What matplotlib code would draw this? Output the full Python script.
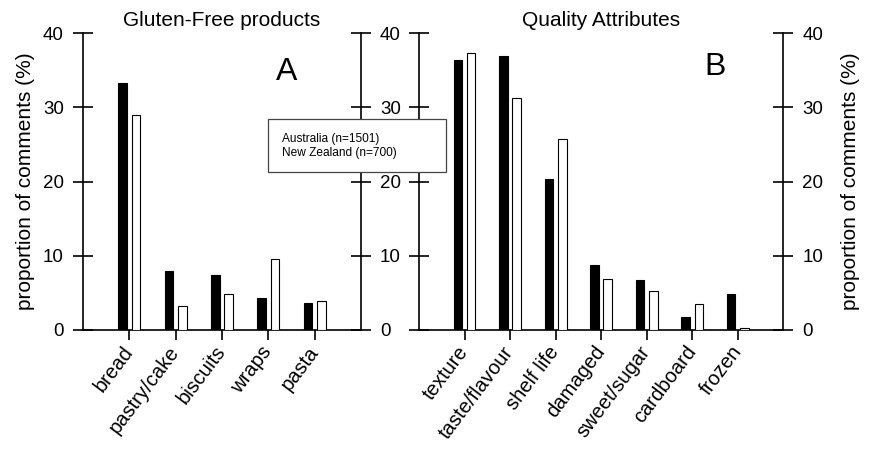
import matplotlib
matplotlib.use("Agg")
import matplotlib.pyplot as plt
from matplotlib.patches import Rectangle
import numpy as np

plt.rcParams['font.family'] = ['Liberation Sans', 'DejaVu Sans']

# ---- data ----
series_names = ["Australia (n=1501)", "New Zealand (n=700)"]

products = ["bread", "pastry/cake", "biscuits", "wraps", "pasta"]
products_au = [33.3, 8.0, 7.45, 4.3, 3.7]
products_nz = [29.0, 3.2, 4.9, 9.6, 3.9]

attributes = ["texture", "taste/flavour", "shelf life", "damaged",
              "sweet/sugar", "cardboard", "frozen"]
attributes_au = [36.4, 37.0, 20.3, 8.7, 6.8, 1.8, 4.9]
attributes_nz = [37.3, 31.3, 25.7, 6.9, 5.3, 3.45, 0.3]

yticks = [0, 10, 20, 30, 40]
titles = ["Gluten-Free products", "Quality Attributes"]
panel_letters = ["A", "B"]
ylabel = "proportion of comments (%)"

# ---- figure ----
W, H = 873, 449
fig = plt.figure(figsize=(W / 100, H / 100), dpi=100)

def fx(px):
    return px / W

def fy(py):
    return 1 - py / H

axA = fig.add_axes([fx(83), fy(330), fx(361) - fx(83), fy(33.3) - fy(330)])
axB = fig.add_axes([fx(419), fy(330), fx(783.3) - fx(419), fy(33.3) - fy(330)])

bw = 0.19
off = 0.145
lw = 1.2

def style(ax, cats, au, nz, title, letter, lx, ly, left_labels, right_labels):
    x = np.arange(1, len(cats) + 1)
    ax.bar(x - off, au, width=bw, color="black", edgecolor="black", linewidth=0.8, zorder=3)
    ax.bar(x + off, nz, width=bw, color="white", edgecolor="black", linewidth=0.8, zorder=3)
    ax.set_xlim(0, len(cats) + 1)
    ax.set_ylim(0, 40)
    ax.set_yticks(yticks)
    ax.set_xticks(x)
    ax.set_xticklabels(cats, rotation=53, ha="right", va="center",
                       rotation_mode="anchor", fontsize=14.5)
    ax.spines["top"].set_visible(False)
    for s in ["left", "right", "bottom"]:
        ax.spines[s].set_linewidth(lw)
        ax.spines[s].set_color("black")
    ax.yaxis.set_ticks_position("both")
    ax.tick_params(axis="y", direction="inout", length=14.4, width=lw, pad=6.5,
                   labelsize=13.5, labelleft=left_labels, labelright=right_labels)
    ax.tick_params(axis="x", direction="out", length=7.2, width=lw, pad=6)
    ax.set_title(title, fontsize=15, pad=5)
    ax.text(lx, ly, letter, transform=ax.transAxes, fontsize=23,
            ha="center", va="center")

style(axA, products, products_au, products_nz, titles[0], panel_letters[0],
      0.734, 0.87, True, True)
style(axB, attributes, attributes_au, attributes_nz, titles[1], panel_letters[1],
      0.8125, 0.885, False, True)

axA.set_ylabel(ylabel, fontsize=15, labelpad=6)
axB.yaxis.set_label_position("right")
axB.set_ylabel(ylabel, fontsize=15, labelpad=13)

# legend box (text only, no markers)
rect = Rectangle((fx(268.3), fy(171.7)), fx(446) - fx(268.3), fy(119.3) - fy(171.7),
                 transform=fig.transFigure, facecolor="white", edgecolor="#444444",
                 linewidth=0.9, zorder=10)
fig.add_artist(rect)
fig.text(fx(281.7), fy(139.3), series_names[0], fontsize=8.6, ha="left", va="center", zorder=11)
fig.text(fx(281.7), fy(152.7), series_names[1], fontsize=8.6, ha="left", va="center", zorder=11)

fig.savefig("out.png", dpi=100)
